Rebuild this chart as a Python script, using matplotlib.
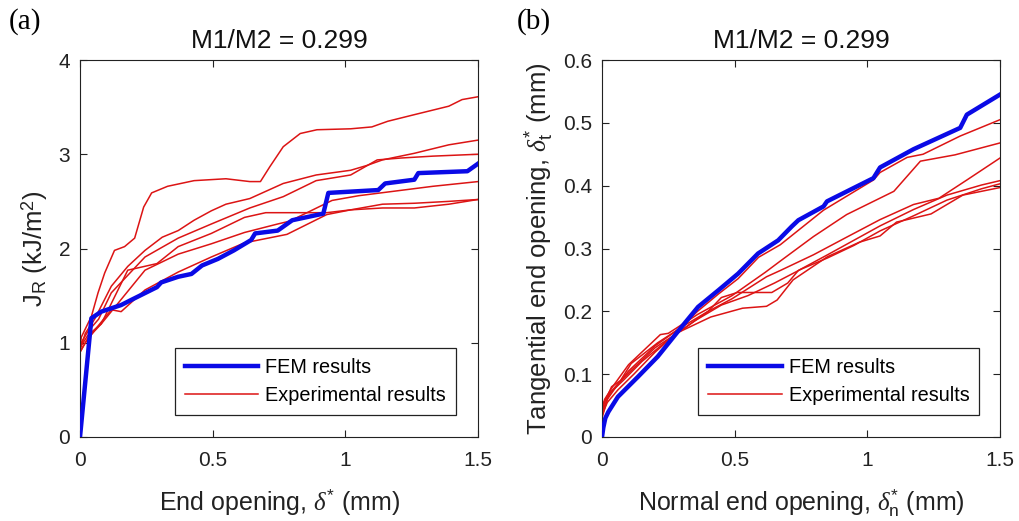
import matplotlib
matplotlib.use("Agg")
import matplotlib.pyplot as plt

plt.rcParams['font.family'] = ['Liberation Sans', 'DejaVu Sans']
plt.rcParams['mathtext.fontset'] = 'custom'
plt.rcParams['mathtext.rm'] = 'Liberation Sans'
plt.rcParams['mathtext.sf'] = 'Liberation Sans'
plt.rcParams['mathtext.it'] = 'Liberation Serif:italic'

# ---------------- Panel (a): J_R vs end opening ----------------
fem_a_x = [0, 0.043, 0.08, 0.155, 0.19, 0.24, 0.29, 0.306, 0.37, 0.42, 0.46, 0.52,
           0.58, 0.645, 0.66, 0.745, 0.80, 0.917, 0.936, 1.124, 1.15, 1.26, 1.275, 1.46, 1.5]
fem_a_y = [0, 1.26, 1.33, 1.40, 1.45, 1.52, 1.59, 1.64, 1.70, 1.73, 1.82, 1.89,
           1.98, 2.09, 2.16, 2.19, 2.30, 2.37, 2.59, 2.62, 2.69, 2.73, 2.80, 2.82, 2.90]

exp_a1_x = [0, 0.005, 0.043, 0.068, 0.093, 0.13, 0.168, 0.206, 0.24, 0.27, 0.33, 0.43, 0.55,
            0.64, 0.68, 0.716, 0.766, 0.83, 0.893, 1.02, 1.10, 1.16, 1.26, 1.39, 1.44, 1.5]
exp_a1_y = [0.95, 1.06, 1.28, 1.53, 1.74, 1.98, 2.02, 2.11, 2.44, 2.59, 2.66, 2.72, 2.74,
            2.71, 2.71, 2.87, 3.08, 3.22, 3.26, 3.27, 3.29, 3.35, 3.42, 3.51, 3.58, 3.61]

exp_a2_x = [0, 0.02, 0.055, 0.118, 0.18, 0.245, 0.31, 0.37, 0.43, 0.495, 0.55, 0.64,
            0.766, 0.89, 1.02, 1.08, 1.14, 1.26, 1.39, 1.5]
exp_a2_y = [0.92, 1.10, 1.25, 1.60, 1.81, 1.98, 2.12, 2.19, 2.30, 2.40, 2.47, 2.53,
            2.69, 2.78, 2.83, 2.88, 2.94, 3.01, 3.10, 3.15]

exp_a3_x = [0, 0.03, 0.07, 0.118, 0.245, 0.37, 0.495, 0.64, 0.766, 0.89, 1.02, 1.12,
            1.21, 1.33, 1.5]
exp_a3_y = [0.98, 1.12, 1.25, 1.53, 1.91, 2.11, 2.26, 2.43, 2.55, 2.72, 2.78, 2.94,
            2.96, 2.98, 3.00]

exp_a4_x = [0, 0.03, 0.08, 0.245, 0.37, 0.495, 0.62, 0.745, 0.79, 0.95, 1.05, 1.19, 1.33, 1.5]
exp_a4_y = [0.95, 1.08, 1.20, 1.77, 1.94, 2.05, 2.17, 2.26, 2.29, 2.51, 2.56, 2.61, 2.66, 2.71]

exp_a5_x = [0, 0.03, 0.08, 0.18, 0.29, 0.37, 0.495, 0.62, 0.70, 0.93, 1.02, 1.14, 1.26, 1.39, 1.5]
exp_a5_y = [0.90, 1.05, 1.20, 1.77, 1.84, 2.02, 2.16, 2.33, 2.38, 2.38, 2.41, 2.47, 2.48, 2.50, 2.52]

exp_a6_x = [0, 0.02, 0.06, 0.118, 0.155, 0.245, 0.37, 0.495, 0.62, 0.78, 0.93, 1.02, 1.14,
            1.26, 1.39, 1.5]
exp_a6_y = [0.90, 1.00, 1.15, 1.35, 1.33, 1.56, 1.75, 1.91, 2.06, 2.15, 2.36, 2.41, 2.43,
            2.43, 2.47, 2.52]

# ---------------- Panel (b): tangential vs normal end opening ----------------
fem_b_x = [0, 0.005, 0.0125, 0.024, 0.06, 0.136, 0.21, 0.29, 0.362, 0.44, 0.513, 0.588,
           0.664, 0.715, 0.74, 0.835, 0.848, 1.023, 1.048, 1.174, 1.35, 1.375, 1.5]
fem_b_y = [0, 0.015, 0.03, 0.040, 0.064, 0.096, 0.128, 0.170, 0.207, 0.234, 0.260, 0.292,
           0.313, 0.335, 0.345, 0.367, 0.375, 0.412, 0.429, 0.458, 0.492, 0.513, 0.545]

exp_b1_x = [0, 0.01, 0.036, 0.07, 0.11, 0.21, 0.29, 0.36, 0.44, 0.513, 0.59, 0.672, 0.835,
            1.023, 1.048, 1.15, 1.21, 1.35, 1.5]
exp_b1_y = [0.040, 0.055, 0.080, 0.090, 0.117, 0.150, 0.172, 0.200, 0.228, 0.252, 0.286, 0.306,
            0.361, 0.409, 0.421, 0.445, 0.450, 0.479, 0.505]

exp_b2_x = [0, 0.01, 0.04, 0.10, 0.15, 0.22, 0.25, 0.36, 0.49, 0.615, 0.672, 0.797, 0.922,
            1.10, 1.15, 1.20, 1.33, 1.5]
exp_b2_y = [0.045, 0.060, 0.080, 0.115, 0.135, 0.163, 0.165, 0.195, 0.225, 0.262, 0.280, 0.319,
            0.354, 0.391, 0.415, 0.439, 0.449, 0.468]

exp_b3_x = [0, 0.02, 0.05, 0.10, 0.20, 0.30, 0.40, 0.49, 0.62, 0.672, 0.797, 0.922, 1.048,
            1.174, 1.27, 1.375, 1.5]
exp_b3_y = [0.030, 0.060, 0.078, 0.105, 0.145, 0.175, 0.200, 0.220, 0.255, 0.265, 0.290, 0.318,
            0.346, 0.370, 0.380, 0.409, 0.444]

exp_b4_x = [0, 0.02, 0.06, 0.12, 0.20, 0.30, 0.40, 0.45, 0.51, 0.64, 0.70, 0.74, 0.85, 1.048,
            1.174, 1.30, 1.43, 1.5]
exp_b4_y = [0.050, 0.065, 0.085, 0.110, 0.142, 0.170, 0.200, 0.222, 0.230, 0.230, 0.245, 0.265,
            0.290, 0.336, 0.362, 0.385, 0.401, 0.408]

exp_b5_x = [0, 0.03, 0.08, 0.15, 0.25, 0.35, 0.45, 0.55, 0.65, 0.75, 0.85, 0.95, 1.048, 1.174,
            1.30, 1.43, 1.5]
exp_b5_y = [0.040, 0.070, 0.090, 0.120, 0.155, 0.185, 0.210, 0.225, 0.245, 0.267, 0.285, 0.305,
            0.328, 0.352, 0.377, 0.395, 0.403]

exp_b6_x = [0, 0.02, 0.06, 0.12, 0.20, 0.28, 0.41, 0.53, 0.62, 0.66, 0.72, 0.85, 0.97, 1.048,
            1.11, 1.24, 1.36, 1.5]
exp_b6_y = [0.035, 0.055, 0.075, 0.100, 0.135, 0.165, 0.191, 0.205, 0.208, 0.218, 0.250, 0.287,
            0.310, 0.320, 0.342, 0.355, 0.385, 0.397]

titles = ["M1/M2 = 0.299", "M1/M2 = 0.299"]
panel_tags = ["(a)", "(b)"]
legend_labels = ["FEM results", "Experimental results"]
xlabels = [r"End opening, $\delta^{*}$ (mm)", r"Normal end opening, $\delta^{*}_{\mathrm{n}}$ (mm)"]
ylabels = [r"J$_{\mathrm{R}}$ (kJ/m$^{2}$)", r"Tangential end opening, $\delta^{*}_{\mathrm{t}}$ (mm)"]
xticks = [0, 0.5, 1, 1.5]
xticklabels = ["0", "0.5", "1", "1.5"]
yticks_a = [0, 1, 2, 3, 4]
yticks_b = [0, 0.1, 0.2, 0.3, 0.4, 0.5, 0.6]
yticklabels_b = ["0", "0.1", "0.2", "0.3", "0.4", "0.5", "0.6"]

RED = '#dc1414'
BLUE = '#0a0ae6'

fig = plt.figure(figsize=(10.2, 5.21), dpi=100)
W, H = 1020, 521
ax_a = fig.add_axes([80 / W, 1 - 437 / H, 398 / W, 377 / H])
ax_b = fig.add_axes([602 / W, 1 - 437 / H, 398 / W, 377 / H])

exp_a = [(exp_a1_x, exp_a1_y), (exp_a2_x, exp_a2_y), (exp_a3_x, exp_a3_y),
         (exp_a4_x, exp_a4_y), (exp_a5_x, exp_a5_y), (exp_a6_x, exp_a6_y)]
exp_b = [(exp_b1_x, exp_b1_y), (exp_b2_x, exp_b2_y), (exp_b3_x, exp_b3_y),
         (exp_b4_x, exp_b4_y), (exp_b5_x, exp_b5_y), (exp_b6_x, exp_b6_y)]

for ax, exps, fx, fy in [(ax_a, exp_a, fem_a_x, fem_a_y), (ax_b, exp_b, fem_b_x, fem_b_y)]:
    for i, (ex, ey) in enumerate(exps):
        ax.plot(ex, ey, color=RED, lw=1.1, zorder=2,
                label=legend_labels[1] if i == 0 else None)
    ax.plot(fx, fy, color=BLUE, lw=3.2, zorder=3, label=legend_labels[0])

for k, ax in enumerate([ax_a, ax_b]):
    ax.set_xlim(0, 1.5)
    ax.set_xticks(xticks)
    ax.set_xticklabels(xticklabels)
    ax.tick_params(direction='in', top=True, right=True, length=5, width=0.8,
                   labelsize=15, colors='#222222')
    ax.tick_params(axis='x', pad=10)
    ax.tick_params(axis='y', pad=7)
    for s in ax.spines.values():
        s.set_linewidth(0.8)
        s.set_color('#222222')
    ax.set_title(titles[k], fontsize=19, pad=9, color='#111111')
    ax.set_xlabel(xlabels[k], fontsize=18, labelpad=12, color='#222222')
    ax.set_ylabel(ylabels[k], fontsize=18.5, labelpad=6, color='#222222')
    h, l = ax.get_legend_handles_labels()
    order = [l.index(legend_labels[0]), l.index(legend_labels[1])]
    anchor_x = 0.945 if k == 0 else 0.948
    leg = ax.legend([h[i] for i in order], [l[i] for i in order],
                    loc='lower right', bbox_to_anchor=(anchor_x, 0.058),
                    borderaxespad=0, fontsize=14.3, handlelength=3.7, handletextpad=0.35,
                    labelspacing=0.45, borderpad=0.5, fancybox=False, framealpha=1,
                    edgecolor='#222222')
    leg.get_frame().set_linewidth(0.9)

ax_a.set_ylim(0, 4)
ax_a.set_yticks(yticks_a)
ax_b.set_ylim(0, 0.6)
ax_b.set_yticks(yticks_b)
ax_b.set_yticklabels(yticklabels_b)

fig.text(9 / W, 1 - 22 / H, panel_tags[0], family=['Liberation Serif', 'DejaVu Serif'],
         fontsize=21, va='center', ha='left')
fig.text(517 / W, 1 - 22 / H, panel_tags[1], family=['Liberation Serif', 'DejaVu Serif'],
         fontsize=21, va='center', ha='left')

fig.savefig("out.png", dpi=100)
